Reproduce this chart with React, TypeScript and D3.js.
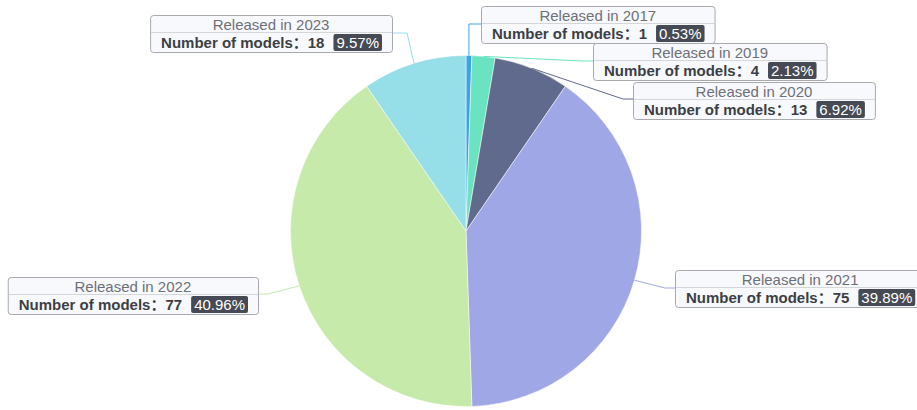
import React from "react";
import * as d3 from "d3";

const years = ["2017", "2019", "2020", "2021", "2022", "2023"];
const counts = [1, 4, 13, 75, 77, 18];
const colors = ["#3ba4e6", "#6ae3c1", "#5f6a8d", "#a0a7e6", "#c5eaaa", "#96dee8"];

const W = 917;
const H = 410;
const CX = 466;
const CY = 231;
const R = 175.5;

// label layout: anchor x (left edge for right side, right edge for left side), box top, elbow point
const labelLayout = [
  { side: "right", ax: 481, top: 6, ex: null as number | null, ey: 24 },
  { side: "right", ax: 593, top: 43, ex: 583, ey: 61 },
  { side: "right", ax: 633, top: 82, ex: 623, ey: 99 },
  { side: "right", ax: 675, top: 270, ex: 665, ey: 288 },
  { side: "left", ax: 258, top: 277, ex: 268, ey: 294 },
  { side: "left", ax: 392, top: 15, ex: 407, ey: 33 },
];

const FONT = "'Liberation Sans', 'Noto Sans CJK SC', sans-serif";
const TITLE_SIZE = 15;
const BODY_SIZE = 15;

let ctx: CanvasRenderingContext2D | null = null;
function measure(text: string, font: string): number {
  if (!ctx) {
    const c = document.createElement("canvas");
    ctx = c.getContext("2d");
  }
  if (!ctx) return text.length * 8;
  ctx.font = font;
  return ctx.measureText(text).width;
}

// percentages with 2 decimals that sum to 100 (largest remainder)
function percents(vals: number[]): number[] {
  const total = d3.sum(vals);
  const digits = 100 * 100;
  const raw = vals.map((v) => (v / total) * digits);
  const seats = raw.map((r) => Math.floor(r));
  let left = digits - d3.sum(seats);
  const rem = raw.map((r, i) => ({ i, r: r - seats[i] })).sort((a, b) => b.r - a.r);
  for (let k = 0; k < rem.length && left > 0; k++, left--) seats[rem[k].i] += 1;
  return seats.map((s) => s / 100);
}

export default function App() {
  const pie = d3
    .pie<number>()
    .sort(null)
    .value((d) => d)
    .startAngle(0)
    .endAngle(2 * Math.PI);
  const arcs = pie(counts);
  const arcGen = d3.arc<d3.PieArcDatum<number>>().innerRadius(0).outerRadius(R);
  const pcts = percents(counts);

  return (
    <svg width={W} height={H} style={{ position: "absolute", left: 0, top: 0 }}>
      <g transform={`translate(${CX},${CY})`}>
        {arcs.map((a, i) => (
          <path key={i} d={arcGen(a) || ""} fill={colors[i]} stroke="#ffffff" strokeWidth={0.5} />
        ))}
      </g>
      {arcs.map((a, i) => {
        const L = labelLayout[i];
        const mid = (a.startAngle + a.endAngle) / 2;
        const sx = CX + R * Math.sin(mid);
        const sy = CY - R * Math.cos(mid);
        const pct = pcts[i].toFixed(2) + "%";
        const body = `Number of models：${counts[i]}`;
        const bodyW = measure(body, `bold ${BODY_SIZE}px ${FONT}`);
        const pctW = measure(pct, `${BODY_SIZE}px ${FONT}`);
        const badgeW = pctW + 6;
        const padL = 11;
        const gap = 9;
        const padR = 10;
        const boxW = padL + bodyW + gap + badgeW + padR;
        const boxH = 37;
        const bx = L.side === "right" ? L.ax : L.ax - boxW;
        const by = L.top;
        const ex = L.ex === null ? sx : L.ex;
        const pts: [number, number][] = [
          [sx, sy],
          [ex, L.ey],
          [L.ax, L.ey],
        ];
        const line = d3.line()(pts) || "";
        return (
          <g key={"l" + i}>
            <path d={line} fill="none" stroke={colors[i]} strokeWidth={1} />
            <rect
              x={bx + 0.5}
              y={by + 0.5}
              width={boxW}
              height={boxH}
              rx={3}
              fill="#f8f9fc"
              stroke="#a8a9ad"
              strokeWidth={1}
            />
            <line
              x1={bx + 1}
              x2={bx + boxW}
              y1={by + 17.5}
              y2={by + 17.5}
              stroke="#d5d6da"
              strokeWidth={1}
            />
            <text
              x={bx + boxW / 2}
              y={by + 14.5}
              textAnchor="middle"
              fontFamily={FONT}
              fontSize={TITLE_SIZE}
              fill="#6e7079"
            >
              {`Released in ${years[i]}`}
            </text>
            <text
              x={bx + padL}
              y={by + 32.5}
              fontFamily={FONT}
              fontSize={BODY_SIZE}
              fontWeight="bold"
              fill="#3c3f45"
            >
              {body}
            </text>
            <rect
              x={bx + padL + bodyW + gap}
              y={by + 19}
              width={badgeW}
              height={17}
              rx={2}
              fill="#464a54"
            />
            <text
              x={bx + padL + bodyW + gap + badgeW / 2}
              y={by + 32.5}
              textAnchor="middle"
              fontFamily={FONT}
              fontSize={BODY_SIZE}
              fill="#ffffff"
            >
              {pct}
            </text>
          </g>
        );
      })}
    </svg>
  );
}
